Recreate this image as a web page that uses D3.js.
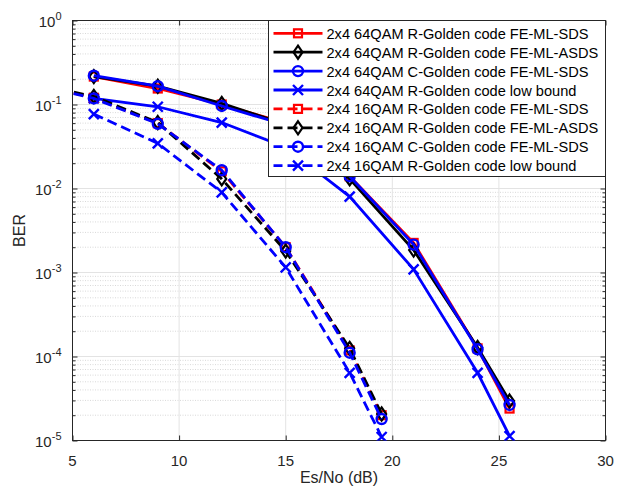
<!DOCTYPE html>
<html><head><meta charset="utf-8">
<script src="https://cdn.jsdelivr.net/npm/d3@7"></script>
<style>body{margin:0;background:#fff;} svg{display:block;font-family:"Liberation Sans",Arial,sans-serif;}</style>
</head><body>
<svg id="c" width="618" height="487"></svg>
<script>
// ---- data ----
const snr64 = [6, 9, 12, 15, 18, 21, 24, 25.5];
const snr16 = [3, 6, 9, 12, 15, 18, 19.5];
const snr16lb = [6, 9, 12, 15, 18, 19.5];
const r64sds  = [0.215, 0.155, 0.100, 0.060, 0.0140, 2.25e-3, 1.25e-4, 2.4e-5];
const r64asds = [0.215, 0.165, 0.103, 0.058, 0.0130, 1.85e-3, 1.28e-4, 2.95e-5];
const c64sds  = [0.220, 0.165, 0.096, 0.057, 0.0140, 2.15e-3, 1.22e-4, 2.65e-5];
const lb64    = [0.118, 0.094, 0.061, 0.031, 0.0080, 1.09e-3, 6.4e-5, 1.13e-5];
const r16sds  = [0.18, 0.120, 0.060, 0.0160, 2.0e-3, 1.18e-4, 2.0e-5];
const r16asds = [0.18, 0.125, 0.061, 0.0130, 1.8e-3, 1.25e-4, 2.07e-5];
const c16sds  = [0.18, 0.118, 0.059, 0.0165, 2.0e-3, 1.11e-4, 1.8e-5];
const lb16    = [0.077, 0.0345, 0.0090, 1.15e-3, 6.4e-5, 1.1e-5];
const legendLabels = [
  "2x4 64QAM R-Golden code FE-ML-SDS",
  "2x4 64QAM R-Golden code FE-ML-ASDS",
  "2x4 64QAM C-Golden code FE-ML-SDS",
  "2x4 64QAM R-Golden code low bound",
  "2x4 16QAM R-Golden code FE-ML-SDS",
  "2x4 16QAM R-Golden code FE-ML-ASDS",
  "2x4 16QAM C-Golden code FE-ML-SDS",
  "2x4 16QAM R-Golden code low bound"
];
const xTicks = [5, 10, 15, 20, 25, 30];
const yTickExps = [0, -1, -2, -3, -4, -5];
const xLabel = "Es/No (dB)";
const yLabel = "BER";

const series = [
  {x: snr64, y: r64sds,  color: "#ff0000", marker: "square",  dash: null},
  {x: snr64, y: r64asds, color: "#000000", marker: "diamond", dash: null},
  {x: snr64, y: c64sds,  color: "#0000ff", marker: "circle",  dash: null},
  {x: snr64, y: lb64,    color: "#0000ff", marker: "cross",   dash: null},
  {x: snr16, y: r16sds,  color: "#ff0000", marker: "square",  dash: "10,5"},
  {x: snr16, y: r16asds, color: "#000000", marker: "diamond", dash: "10,5"},
  {x: snr16, y: c16sds,  color: "#0000ff", marker: "circle",  dash: "10,5"},
  {x: snr16lb, y: lb16,  color: "#0000ff", marker: "cross",   dash: "10,5"}
];

// ---- layout ----
const svg = d3.select("#c");
const L = 72.5, R = 605.5, T = 20.5, B = 440.5;
const x = d3.scaleLinear().domain([5, 30]).range([L, R]);
const y = d3.scaleLog().domain([1e-5, 1]).range([B, T]);
const axisColor = "#262626";

svg.append("defs").append("clipPath").attr("id", "clip")
  .append("rect").attr("x", L).attr("y", T).attr("width", R - L).attr("height", B - T);

// minor grid (y)
const minor = [];
for (let e = -5; e < 0; e++) for (let m = 2; m <= 9; m++) minor.push(m * Math.pow(10, e));
const g = svg.append("g");
g.selectAll(".mg").data(minor).enter().append("line")
  .attr("x1", L).attr("x2", R).attr("y1", d => y(d)).attr("y2", d => y(d))
  .attr("stroke", "#c8c8c8").attr("stroke-width", 0.7).attr("stroke-dasharray", "1,1.5");
// major grid
g.selectAll(".gy").data(yTickExps.map(e => Math.pow(10, e))).enter().append("line")
  .attr("x1", L).attr("x2", R).attr("y1", d => y(d)).attr("y2", d => y(d))
  .attr("stroke", "#e3e3e3").attr("stroke-width", 1);
g.selectAll(".gx").data(xTicks).enter().append("line")
  .attr("y1", T).attr("y2", B).attr("x1", d => x(d)).attr("x2", d => x(d))
  .attr("stroke", "#e3e3e3").attr("stroke-width", 1);

// axes with inward ticks
const fmtNone = () => "";
svg.append("g").attr("transform", `translate(0,${B})`)
  .call(d3.axisBottom(x).tickValues(xTicks).tickSize(-5).tickFormat(fmtNone))
  .call(a => { a.select(".domain").remove(); a.selectAll("line").attr("stroke", axisColor); });
svg.append("g").attr("transform", `translate(0,${T})`)
  .call(d3.axisTop(x).tickValues(xTicks).tickSize(-5).tickFormat(fmtNone))
  .call(a => { a.select(".domain").remove(); a.selectAll("line").attr("stroke", axisColor); });
const yMajor = yTickExps.map(e => Math.pow(10, e));
[[L, d3.axisLeft], [R, d3.axisRight]].forEach(([px, ax]) => {
  svg.append("g").attr("transform", `translate(${px},0)`)
    .call(ax(y).tickValues(yMajor).tickSize(-5).tickFormat(fmtNone))
    .call(a => { a.select(".domain").remove(); a.selectAll("line").attr("stroke", axisColor); });
  svg.append("g").attr("transform", `translate(${px},0)`)
    .call(ax(y).tickValues(minor).tickSize(-3).tickFormat(fmtNone))
    .call(a => { a.select(".domain").remove(); a.selectAll("line").attr("stroke", axisColor); });
});
svg.append("rect").attr("x", L).attr("y", T).attr("width", R - L).attr("height", B - T)
  .attr("fill", "none").attr("stroke", axisColor).attr("stroke-width", 1);

// tick labels
svg.selectAll(".xl").data(xTicks).enter().append("text")
  .attr("x", d => x(d)).attr("y", B + 25).attr("text-anchor", "middle")
  .attr("font-size", 15).attr("fill", axisColor).text(d => d);
yTickExps.forEach(e => {
  const t = svg.append("text").attr("x", L - 11).attr("y", y(Math.pow(10, e)) + 6)
    .attr("text-anchor", "end").attr("font-size", 15).attr("fill", axisColor);
  t.append("tspan").text("10");
  t.append("tspan").attr("dy", -7).attr("font-size", 11).text(String(e));
});
svg.append("text").attr("x", (L + R) / 2).attr("y", B + 42.5).attr("text-anchor", "middle")
  .attr("font-size", 16).attr("fill", axisColor).text(xLabel);
svg.append("text").attr("transform", `translate(25,${(T + B) / 2}) rotate(-90)`)
  .attr("text-anchor", "middle").attr("font-size", 16).attr("fill", axisColor).text(yLabel);

// markers
function drawMarker(sel, type, color, cx, cy) {
  if (type === "square") {
    sel.append("rect").attr("x", cx - 4).attr("y", cy - 4).attr("width", 8).attr("height", 8)
      .attr("fill", "none").attr("stroke", color).attr("stroke-width", 2.2);
  } else if (type === "diamond") {
    sel.append("path").attr("d", `M${cx},${cy - 6.5}L${cx + 4.5},${cy}L${cx},${cy + 6.5}L${cx - 4.5},${cy}Z`)
      .attr("fill", "none").attr("stroke", color).attr("stroke-width", 2.2);
  } else if (type === "circle") {
    sel.append("circle").attr("cx", cx).attr("cy", cy).attr("r", 5)
      .attr("fill", "none").attr("stroke", color).attr("stroke-width", 2.4);
  } else if (type === "cross") {
    sel.append("path").attr("d", `M${cx - 5},${cy - 5}L${cx + 5},${cy + 5}M${cx - 5},${cy + 5}L${cx + 5},${cy - 5}`)
      .attr("stroke", color).attr("stroke-width", 2.4);
  }
}

const plot = svg.append("g").attr("clip-path", "url(#clip)");
const line = d3.line().x(d => x(d[0])).y(d => y(d[1]));
series.forEach(s => {
  const pts = s.x.map((v, i) => [v, s.y[i]]);
  plot.append("path").attr("d", line(pts)).attr("fill", "none")
    .attr("stroke", s.color).attr("stroke-width", 2.8)
    .attr("stroke-dasharray", s.dash);
  const mg = plot.append("g");
  pts.forEach(p => drawMarker(mg, s.marker, s.color, x(p[0]), y(p[1])));
});

// legend
const lx = 268.5, ly = 20.5, lw = R - lx, lh = 156;
const leg = svg.append("g");
leg.append("rect").attr("x", lx).attr("y", ly).attr("width", lw).attr("height", lh)
  .attr("fill", "#fff").attr("stroke", "#262626").attr("stroke-width", 1);
series.forEach((s, i) => {
  const cy = 33.3 + i * 18.9;
  leg.append("line").attr("x1", 273.5).attr("x2", 322.5).attr("y1", cy).attr("y2", cy)
    .attr("stroke", s.color).attr("stroke-width", 2.8).attr("stroke-dasharray", s.dash ? "10,5" : null)
    .attr("stroke-dashoffset", s.dash ? 1 : null);
  drawMarker(leg, s.marker, s.color, 298, cy);
  leg.append("text").attr("x", 326.5).attr("y", cy + 5.5).attr("font-size", 14.6)
    .attr("fill", "#000").text(legendLabels[i]);
});
</script>
</body></html>
